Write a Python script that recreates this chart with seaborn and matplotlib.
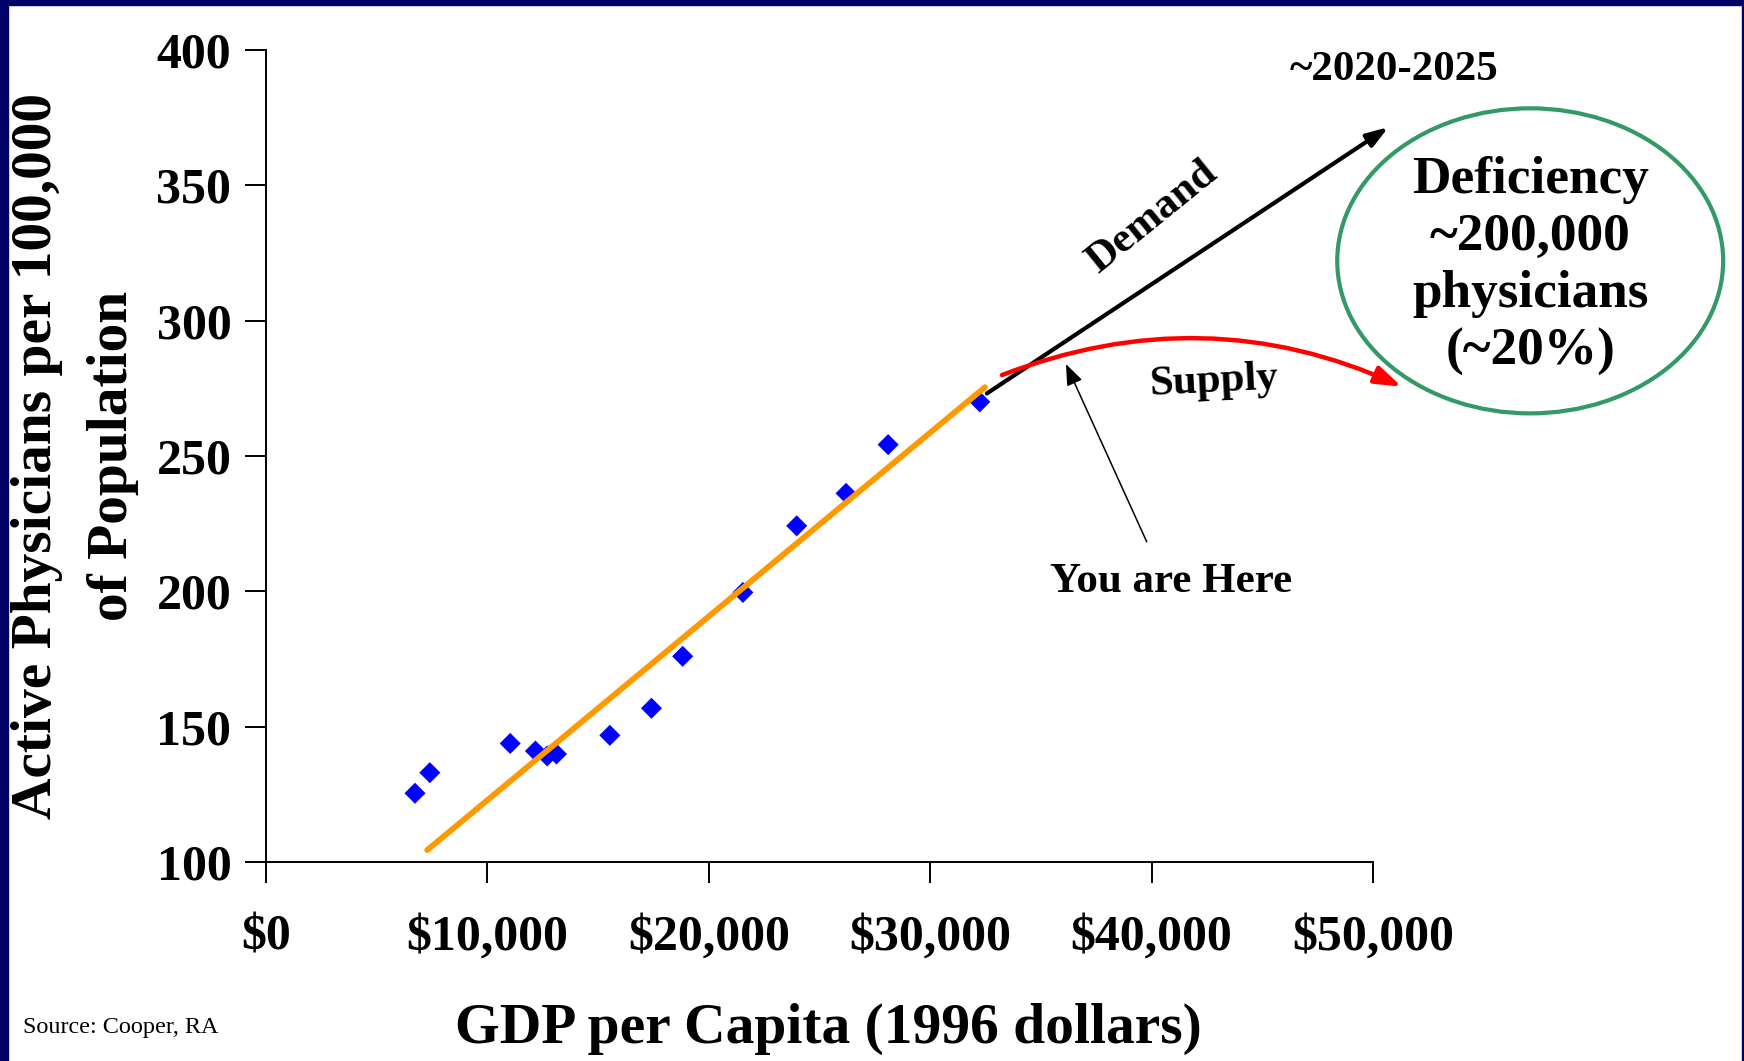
import matplotlib
matplotlib.use("Agg")
import matplotlib.pyplot as plt
from matplotlib.patches import Ellipse, Rectangle
import seaborn as sns
import pandas as pd

# ---------------- data ----------------
gdp_per_capita = [6730, 7400, 11030, 12170, 12700, 13120, 15530, 17410,
                  18820, 21540, 23970, 26200, 28100, 32240]
physicians = [125.4, 133.0, 143.8, 141.0, 139.2, 139.9, 146.8, 156.8,
              176.0, 199.6, 224.2, 236.2, 254.2, 270.0]
trend_x = [7280, 32470]
trend_y = [104.4, 275.4]
demand_x = [32560, 50700]
demand_y = [273.1, 371.5]
supply_x = [33240, 51300]
supply_y = [279.9, 275.6]
here_x = [39780, 36130]
here_y = [218.3, 284.0]
x_ticks = [0, 10000, 20000, 30000, 40000, 50000]
x_tick_labels = ["$0", "$10,000", "$20,000", "$30,000", "$40,000", "$50,000"]
y_ticks = [100, 150, 200, 250, 300, 350, 400]
y_tick_labels = ["100", "150", "200", "250", "300", "350", "400"]

df = pd.DataFrame({"gdp": gdp_per_capita, "phys": physicians})
trend = pd.DataFrame({"x": trend_x, "y": trend_y})

# ---------------- style ----------------
sns.set_style("white")
plt.rcParams['font.family'] = ['Liberation Serif', 'DejaVu Sans']
plt.rcParams['font.weight'] = 'bold'
for k in ["text.color", "axes.labelcolor", "xtick.color", "ytick.color"]:
    plt.rcParams[k] = "black"

W, H = 1744, 1061
fig = plt.figure(figsize=(W / 100, H / 100), dpi=100)
fig.patch.set_facecolor("white")
ax = fig.add_axes([266 / W, (H - 862) / H, 1107 / W, 812 / H])
ax.set_facecolor("white")

# navy frame
navy = "#000066"
fig.add_artist(Rectangle((0, 0), 8 / W, 1, transform=fig.transFigure, color=navy, zorder=10))
fig.add_artist(Rectangle((0, 1 - 5 / H), 1, 5 / H, transform=fig.transFigure, color=navy, zorder=10))
fig.add_artist(Rectangle((1 - 2 / W, 0), 2 / W, 1, transform=fig.transFigure, color=navy, zorder=10))

# ---------------- marks ----------------
sns.lineplot(data=trend, x="x", y="y", color="#FF9900", lw=4.2, ax=ax, zorder=3)
sns.scatterplot(data=df, x="gdp", y="phys", marker="D", s=115, color="#0000FF",
                edgecolor="none", ax=ax, zorder=2)

# demand arrow
ax.annotate("", xy=(demand_x[1], demand_y[1]), xytext=(demand_x[0], demand_y[0]),
            arrowprops=dict(arrowstyle="-|>,head_length=0.65,head_width=0.22",
                            color="black", lw=3, shrinkA=0, shrinkB=0, mutation_scale=20),
            annotation_clip=False, zorder=4)
# supply arrow (curved)
ax.annotate("", xy=(supply_x[1], supply_y[1]), xytext=(supply_x[0], supply_y[0]),
            arrowprops=dict(arrowstyle="-|>,head_length=0.8,head_width=0.27",
                            color="#FF0000", lw=3.2, shrinkA=0, shrinkB=0, mutation_scale=20,
                            connectionstyle="arc3,rad=-0.21"),
            annotation_clip=False, zorder=5)
# you are here arrow
ax.annotate("", xy=(here_x[1], here_y[1]), xytext=(here_x[0], here_y[0]),
            arrowprops=dict(arrowstyle="-|>,head_length=0.65,head_width=0.25",
                            color="black", lw=1.1, shrinkA=0, shrinkB=0, mutation_scale=20),
            annotation_clip=False, zorder=4)

# ellipse
ax.add_patch(Ellipse((57100, 322.1), width=17430, height=112.7, fill=False,
                     edgecolor="#339966", lw=3, clip_on=False, zorder=4))
ax.text(57100, 320.2, "Deficiency\n~200,000\nphysicians\n(~20%)", ha="center", va="center",
        fontsize=38.3, fontweight="bold", linespacing=1.25, multialignment="center")

# annotation texts
txt_kw = dict(fontsize=31, fontweight="bold", ha="center", va="center", rotation_mode="anchor")
ax.text(50970, 392.6, "~2020-2025", **txt_kw)
ax.text(40050, 338.3, "Demand", rotation=39, **txt_kw)
ax.text(42830, 277.4, "Supply", rotation=3, **txt_kw)
ax.text(40900, 203.3, "You are Here", **txt_kw)

# ---------------- axes ----------------
ax.set_xlim(0, 50000)
ax.set_ylim(100, 400)
for s in ["top", "right"]:
    ax.spines[s].set_visible(False)
for s in ["left", "bottom"]:
    ax.spines[s].set_color("black")
    ax.spines[s].set_linewidth(1.4)
ax.set_xticks(x_ticks)
ax.set_xticklabels(x_tick_labels, fontsize=36, fontweight="bold")
ax.set_yticks(y_ticks)
ax.set_yticklabels(y_tick_labels, fontsize=36, fontweight="bold")
ax.tick_params(axis="x", direction="out", length=15, width=1.4, color="black", pad=23, bottom=True)
ax.tick_params(axis="y", direction="out", length=15, width=1.4, color="black", pad=10, left=True)
ax.grid(False)

ax.set_xlabel("GDP per Capita (1996 dollars)", fontsize=41.4, fontweight="bold", va="baseline")
ax.xaxis.set_label_coords((828 - 266) / 1107, (862 - 1043) / 812)
ax.set_ylabel("Active Physicians per 100,000\nof Population", fontsize=41.3, fontweight="bold",
              va="center", linespacing=1.6, multialignment="center")
ax.yaxis.set_label_coords((75 - 266) / 1107, 0.5)

fig.text(22.7 / W, (H - 1033) / H, "Source: Cooper, RA", fontsize=17.4, fontweight="normal",
         ha="left", va="baseline")

fig.savefig("out.png", dpi=100, facecolor="white")
